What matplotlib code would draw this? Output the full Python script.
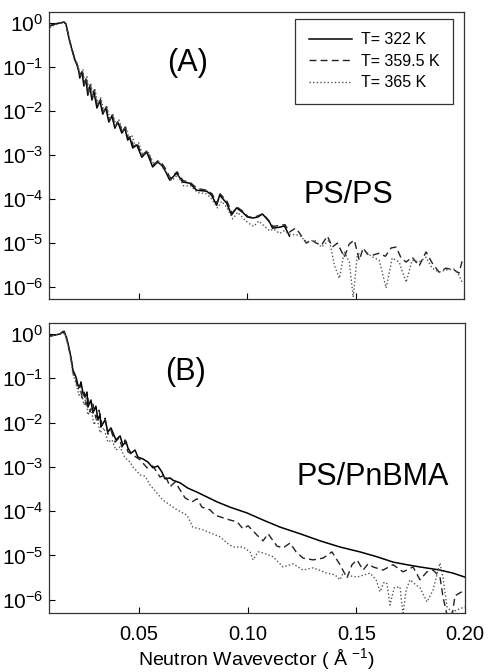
import numpy as np
import matplotlib
matplotlib.use("Agg")
import matplotlib.pyplot as plt
from matplotlib.ticker import FixedLocator, NullLocator

plt.rcParams['font.family'] = ['Liberation Sans', 'DejaVu Sans']
plt.rcParams['mathtext.fontset'] = 'custom'
plt.rcParams['mathtext.rm'] = 'Liberation Sans'
plt.rcParams['mathtext.it'] = 'Liberation Sans'
plt.rcParams['mathtext.default'] = 'regular'

labels = ["T= 322 K", "T= 359.5 K", "T= 365 K"]
xticks = [0.05, 0.10, 0.15, 0.20]
xticklabels = ["0.05", "0.10", "0.15", "0.20"]
yexp = [0, -1, -2, -3, -4, -5, -6]

# ---- Panel A (PS/PS): q (1/A), log10(R)
qa1 = [0.0090, 0.0113, 0.0136, 0.0155, 0.0164, 0.0173, 0.0182, 0.0192, 0.0205, 0.0215, 0.0224, 0.0228,
       0.0238, 0.0247, 0.0256, 0.0265, 0.0274, 0.0284, 0.0293, 0.0307, 0.0321, 0.0334, 0.0348, 0.0362,
       0.0376, 0.0390, 0.0403, 0.0422, 0.0436, 0.0449, 0.0459, 0.0472, 0.0491, 0.0514, 0.0537, 0.0564,
       0.0587, 0.0606, 0.0620, 0.0643, 0.0675, 0.0702, 0.0735, 0.0767, 0.0813, 0.0836, 0.0859, 0.0873,
       0.0905, 0.0928, 0.0951, 0.0979, 0.1002, 0.1025, 0.1048, 0.1071, 0.1103, 0.1117, 0.1149, 0.1172, 0.1195]
la1 = [-0.07, -0.02, 0.00, 0.02, -0.02, -0.23, -0.43, -0.61, -0.84, -0.95, -1.11, -1.25,
       -1.11, -1.43, -1.27, -1.64, -1.43, -1.75, -1.55, -1.93, -1.77, -2.07, -1.93, -2.25,
       -2.11, -2.39, -2.25, -2.50, -2.39, -2.66, -2.61, -2.84, -2.77, -3.05, -2.93, -3.27,
       -3.16, -3.23, -3.34, -3.57, -3.41, -3.61, -3.64, -3.80, -3.82, -3.91, -4.14, -3.91,
       -4.09, -4.36, -4.20, -4.30, -4.41, -4.43, -4.41, -4.34, -4.52, -4.66, -4.64, -4.61, -4.84]

qa2 = [0.0090, 0.0113, 0.0136, 0.0155, 0.0164, 0.0173, 0.0182, 0.0192, 0.0205, 0.0215, 0.0224, 0.0230,
       0.0240, 0.0249, 0.0258, 0.0267, 0.0277, 0.0286, 0.0295, 0.0309, 0.0323, 0.0336, 0.0350, 0.0364,
       0.0378, 0.0392, 0.0405, 0.0424, 0.0438, 0.0451, 0.0461, 0.0475, 0.0493, 0.0516, 0.0539, 0.0566,
       0.0589, 0.0608, 0.0622, 0.0645, 0.0677, 0.0704, 0.0737, 0.0769, 0.0815, 0.0838, 0.0861, 0.0875,
       0.0907, 0.0930, 0.0953, 0.0981, 0.1004, 0.1027, 0.1050, 0.1073, 0.1105, 0.1119, 0.1151, 0.1174,
       0.1195, 0.1223, 0.1241, 0.1273, 0.1296, 0.1319, 0.1342, 0.1370, 0.1393, 0.1416, 0.1448, 0.1471,
       0.1494, 0.1517, 0.1535, 0.1554, 0.1581, 0.1609, 0.1637, 0.1664, 0.1687, 0.1710, 0.1733, 0.1761,
       0.1793, 0.1825, 0.1853, 0.1885, 0.1917, 0.1954, 0.1977, 0.1995]
la2 = [-0.06, -0.02, 0.00, 0.02, -0.02, -0.22, -0.41, -0.59, -0.82, -0.93, -1.08, -1.20,
       -1.08, -1.40, -1.24, -1.60, -1.40, -1.72, -1.52, -1.88, -1.74, -2.03, -1.90, -2.22,
       -2.08, -2.36, -2.22, -2.47, -2.36, -2.62, -2.58, -2.80, -2.74, -3.00, -2.90, -3.22,
       -3.13, -3.20, -3.30, -3.52, -3.38, -3.58, -3.62, -3.76, -3.80, -3.88, -4.10, -3.88,
       -4.05, -4.32, -4.18, -4.28, -4.40, -4.42, -4.38, -4.33, -4.52, -4.62, -4.60, -4.58,
       -4.75, -4.66, -4.77, -5.00, -4.93, -5.00, -5.05, -4.84, -5.09, -5.00, -5.32, -5.02,
       -4.93, -5.39, -5.11, -5.25, -5.27, -5.23, -5.30, -5.11, -5.09, -5.34, -5.43, -5.32,
       -5.52, -5.20, -5.45, -5.66, -5.57, -5.61, -5.68, -5.34]

qa3 = [0.0090, 0.0113, 0.0136, 0.0155, 0.0164, 0.0173, 0.0182, 0.0192, 0.0205, 0.0215, 0.0224, 0.0233,
       0.0242, 0.0251, 0.0261, 0.0270, 0.0279, 0.0288, 0.0298, 0.0311, 0.0325, 0.0339, 0.0353, 0.0367,
       0.0380, 0.0394, 0.0408, 0.0426, 0.0440, 0.0454, 0.0468, 0.0482, 0.0500, 0.0518, 0.0541, 0.0569,
       0.0592, 0.0610, 0.0629, 0.0652, 0.0679, 0.0707, 0.0739, 0.0771, 0.0813, 0.0836, 0.0864, 0.0882,
       0.0905, 0.0933, 0.0956, 0.0984, 0.1007, 0.1030, 0.1053, 0.1076, 0.1103, 0.1122, 0.1149, 0.1172,
       0.1195, 0.1241, 0.1273, 0.1310, 0.1342, 0.1379, 0.1402, 0.1425, 0.1448, 0.1471, 0.1489, 0.1508,
       0.1540, 0.1572, 0.1609, 0.1641, 0.1669, 0.1701, 0.1733, 0.1761, 0.1793, 0.1825, 0.1853, 0.1885,
       0.1917, 0.1954, 0.1977, 0.1995]
la3 = [-0.10, -0.05, -0.01, 0.03, -0.01, -0.20, -0.40, -0.58, -0.80, -0.92, -1.05, -1.20,
       -1.05, -1.38, -1.22, -1.58, -1.38, -1.68, -1.50, -1.85, -1.70, -2.00, -1.88, -2.20,
       -2.05, -2.33, -2.20, -2.45, -2.35, -2.60, -2.55, -2.78, -2.72, -3.00, -2.90, -3.20,
       -3.15, -3.28, -3.40, -3.58, -3.45, -3.70, -3.70, -3.85, -3.88, -4.00, -4.20, -4.05,
       -4.18, -4.45, -4.30, -4.45, -4.55, -4.62, -4.50, -4.60, -4.72, -4.68, -4.78, -4.72,
       -4.80, -4.82, -4.98, -4.93, -5.09, -4.93, -5.50, -5.80, -5.20, -5.43, -6.23, -5.27,
       -5.16, -5.30, -5.39, -6.02, -5.34, -5.43, -5.89, -5.39, -5.43, -5.32, -5.57, -5.66,
       -5.61, -5.59, -5.73, -5.93]

# ---- Panel B (PS/PnBMA)
qb1 = [0.0086, 0.0113, 0.0136, 0.0150, 0.0159, 0.0173, 0.0187, 0.0196, 0.0210, 0.0219, 0.0228, 0.0233,
       0.0242, 0.0251, 0.0261, 0.0265, 0.0279, 0.0288, 0.0302, 0.0311, 0.0321, 0.0325, 0.0344, 0.0357,
       0.0371, 0.0394, 0.0413, 0.0426, 0.0440, 0.0449, 0.0463, 0.0482, 0.0495, 0.0518, 0.0541, 0.0564,
       0.0587, 0.0606, 0.0620, 0.0643, 0.0656, 0.0689, 0.0725, 0.0767, 0.0813, 0.0859, 0.0919, 0.0997,
       0.1071, 0.1149, 0.1241, 0.1333, 0.1425, 0.1517, 0.1595, 0.1669, 0.1733, 0.1793, 0.1885, 0.1945, 0.2000]
lb1 = [-0.05, -0.02, 0.00, 0.05, 0.02, -0.20, -0.52, -0.81, -0.97, -1.15, -1.20, -1.08,
       -1.33, -1.42, -1.31, -1.65, -1.49, -1.78, -1.63, -1.94, -1.81, -2.10, -1.94, -2.21,
       -2.12, -2.39, -2.30, -2.51, -2.42, -2.57, -2.69, -2.62, -2.78, -2.82, -2.89, -3.02,
       -2.98, -3.12, -3.27, -3.25, -3.30, -3.36, -3.48, -3.57, -3.68, -3.79, -3.91, -4.04,
       -4.20, -4.36, -4.51, -4.67, -4.81, -4.92, -5.03, -5.15, -5.21, -5.26, -5.33, -5.40, -5.49]

qb2 = [0.0086, 0.0136, 0.0155, 0.0164, 0.0173, 0.0187, 0.0196, 0.0210, 0.0219, 0.0228, 0.0238, 0.0247,
       0.0256, 0.0265, 0.0274, 0.0288, 0.0302, 0.0316, 0.0330, 0.0344, 0.0357, 0.0371, 0.0390, 0.0408,
       0.0422, 0.0436, 0.0449, 0.0472, 0.0505, 0.0537, 0.0564, 0.0597, 0.0620, 0.0643, 0.0666, 0.0689,
       0.0712, 0.0744, 0.0767, 0.0790, 0.0827, 0.0850, 0.0887, 0.0919, 0.0951, 0.0979, 0.1002, 0.1043,
       0.1071, 0.1094, 0.1135, 0.1163, 0.1195, 0.1223, 0.1255, 0.1301, 0.1347, 0.1388, 0.1425, 0.1457,
       0.1480, 0.1503, 0.1531, 0.1554, 0.1577, 0.1623, 0.1669, 0.1715, 0.1761, 0.1793, 0.1825, 0.1853,
       0.1885, 0.1899, 0.1917, 0.1931, 0.1954, 0.2000]
lb2 = [-0.05, 0.00, 0.07, 0.00, -0.23, -0.54, -0.86, -1.04, -1.26, -1.15, -1.44, -1.31,
       -1.60, -1.44, -1.76, -1.58, -1.90, -1.72, -2.05, -1.90, -2.26, -2.17, -2.44, -2.35,
       -2.55, -2.39, -2.66, -2.73, -2.84, -3.02, -2.98, -3.23, -3.18, -3.45, -3.34, -3.52,
       -3.70, -3.79, -3.72, -3.91, -3.97, -4.09, -4.15, -4.20, -4.24, -4.40, -4.33, -4.54,
       -4.67, -4.51, -4.79, -4.83, -4.72, -4.92, -5.06, -5.10, -5.06, -4.92, -5.21, -5.51,
       -5.21, -5.10, -5.33, -5.19, -5.26, -5.33, -5.21, -5.37, -5.26, -5.55, -5.37, -5.33,
       -5.49, -5.94, -6.34, -6.68, -5.91, -5.78]

qb3 = [0.0086, 0.0136, 0.0159, 0.0173, 0.0187, 0.0196, 0.0210, 0.0224, 0.0233, 0.0247, 0.0256, 0.0265,
       0.0279, 0.0293, 0.0307, 0.0321, 0.0339, 0.0357, 0.0376, 0.0394, 0.0413, 0.0436, 0.0459, 0.0472,
       0.0505, 0.0528, 0.0551, 0.0583, 0.0610, 0.0643, 0.0675, 0.0721, 0.0748, 0.0794, 0.0827, 0.0873,
       0.0905, 0.0933, 0.0979, 0.1011, 0.1025, 0.1048, 0.1071, 0.1117, 0.1163, 0.1209, 0.1255, 0.1301,
       0.1365, 0.1402, 0.1425, 0.1439, 0.1471, 0.1503, 0.1535, 0.1563, 0.1591, 0.1609, 0.1628, 0.1641,
       0.1655, 0.1674, 0.1701, 0.1715, 0.1729, 0.1747, 0.1775, 0.1793, 0.1825, 0.1853, 0.1876, 0.1885,
       0.1899, 0.1917, 0.1940, 0.1963, 0.2000]
lb3 = [-0.05, 0.00, 0.02, -0.25, -0.59, -0.90, -1.11, -1.38, -1.26, -1.60, -1.44, -1.83,
       -1.67, -2.05, -1.90, -2.23, -2.12, -2.44, -2.39, -2.62, -2.55, -2.80, -2.89, -3.00,
       -3.18, -3.21, -3.41, -3.59, -3.75, -3.86, -3.97, -4.09, -4.36, -4.42, -4.49, -4.58,
       -4.72, -4.81, -4.81, -4.92, -5.10, -4.92, -4.94, -5.03, -5.26, -5.19, -5.33, -5.28,
       -5.40, -5.44, -5.55, -5.40, -5.46, -5.49, -5.44, -5.40, -5.55, -5.82, -5.60, -5.64,
       -6.12, -5.73, -5.71, -6.34, -5.78, -5.55, -5.67, -5.73, -6.05, -5.78, -5.33, -5.17,
       -5.51, -6.16, -6.28, -6.23, -6.16]

W, H = 489, 672
fig = plt.figure(figsize=(W / 100, H / 100), dpi=100)
axA = fig.add_axes([49 / W, 1 - 299 / H, 415 / W, 287 / H])
axB = fig.add_axes([49 / W, 1 - 613 / H, 416 / W, 290 / H])

styles = [dict(color='black', lw=1.1, ls='-'),
          dict(color='#222222', lw=1.0, ls=(0, (5, 3))),
          dict(color='#555555', lw=1.0, ls=(0, (1, 1.6)))]

panels = [(axA, [(qa1, la1), (qa2, la2), (qa3, la3)], -6.27),
          (axB, [(qb1, lb1), (qb2, lb2), (qb3, lb3)], -6.30)]

for ax, series, ylo in panels:
    for (q, lr), st, lab in zip(series, styles, labels):
        ax.semilogy(q, 10 ** np.array(lr), label=lab, **st)
    ax.set_xlim(0.0086, 0.20)
    ax.set_ylim(10 ** ylo, 10 ** 0.25)
    ax.yaxis.set_major_locator(FixedLocator([10.0 ** e for e in yexp]))
    ax.yaxis.set_minor_locator(NullLocator())
    ax.set_yticklabels([f"$10^{{{e}}}$" for e in yexp])
    ax.set_xticks(xticks)
    ax.tick_params(direction='in', length=4, width=0.8, labelsize=15, colors='black', pad=4)
    ax.tick_params(axis='y', pad=4)
    for s in ax.spines.values():
        s.set_linewidth(0.9)
        s.set_color('#333333')

axA.set_xticklabels([])
axB.set_xticklabels(xticklabels)
axB.tick_params(axis='x', pad=9, labelsize=14.5)
axB.set_xlabel("Neutron Wavevector ( Å $^{-1}$)", fontsize=14, labelpad=1)

axA.text(0.335, 0.822, "(A)", transform=axA.transAxes, fontsize=22, ha='center', va='center')
axA.text(0.722, 0.362, "PS/PS", transform=axA.transAxes, fontsize=22, ha='center', va='center')
axB.text(0.327, 0.831, "(B)", transform=axB.transAxes, fontsize=22, ha='center', va='center')
axB.text(0.778, 0.469, "PS/PnBMA", transform=axB.transAxes, fontsize=22, ha='center', va='center')

leg = axA.legend(loc='upper right', bbox_to_anchor=(0.973, 0.976), borderaxespad=0, fontsize=11.5,
                 frameon=True, fancybox=False, edgecolor='black', handlelength=2.7, handletextpad=0.55,
                 borderpad=0.85, labelspacing=0.4)
leg.get_frame().set_linewidth(0.9)

fig.savefig("out.png", dpi=100)
